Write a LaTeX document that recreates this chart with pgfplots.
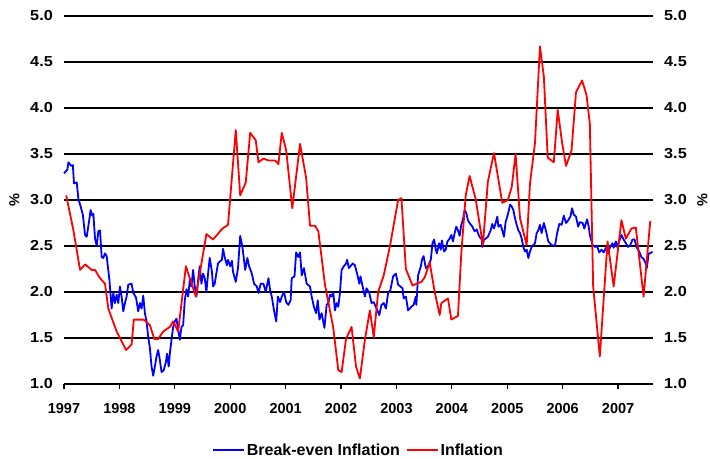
\documentclass[border=0pt]{standalone}
\usepackage{fontspec}
\setmainfont{Liberation Sans}
\newfontfamily\widefam{Liberation Sans}[FakeStretch=1.12]
\usepackage{pgfplots}
\pgfplotsset{compat=1.18}
\newcommand{\tickfont}{\fontsize{14.5bp}{17bp}\selectfont\bfseries}
\newcommand{\ytickfont}{\widefam\fontsize{14.5bp}{17bp}\selectfont\bfseries}
\newcommand{\legfont}{\fontsize{16bp}{19bp}\selectfont\bfseries}
\begin{document}
\begin{tikzpicture}
\begin{axis}[name=ax,
  scale only axis, width=589bp, height=368bp,
  xmin=1997, xmax=2007.63, ymin=1, ymax=5,
  axis line style={draw=none},
  xtick={1997,1998,1999,2000,2001,2002,2003,2004,2005,2006,2007},
  ytick={1,1.5,2,2.5,3,3.5,4,4.5,5},
  xtick pos=left, tick align=outside,
  major tick length=5bp,
  xtick style={black, line width=1.2bp},
  ytick style={draw=none},
  ymajorgrids, grid style={black, line width=1.2bp},
  /pgf/number format/assume math mode=true,
  xticklabel style={font=\tickfont, /pgf/number format/1000 sep={}, inner sep=0pt, anchor=north, yshift=-14bp},
  yticklabel style={font=\ytickfont, /pgf/number format/fixed, /pgf/number format/fixed zerofill, /pgf/number format/precision=1, inner sep=0pt, anchor=east, xshift=-6bp},
  legend style={at={(0.5,-0.1793)}, anchor=center, draw=none, fill=none,
    font=\legfont, nodes={inner sep=2bp},
    /tikz/every even column/.append style={column sep=4bp}},
  legend columns=2,
  legend image code/.code={\draw[#1] (0bp,0bp) -- (31bp,0bp);},
  clip=false,
]
\addplot[blue, line width=1.8bp, line join=round] coordinates {
(1997.00,3.29)(1997.06,3.33)(1997.08,3.41)(1997.13,3.37)(1997.16,3.38)(1997.18,3.18)(1997.23,3.19)(1997.26,3.01)(1997.30,2.93)(1997.34,2.84)(1997.38,2.62)(1997.41,2.60)(1997.46,2.80)(1997.48,2.89)(1997.51,2.83)(1997.53,2.85)(1997.56,2.58)(1997.59,2.50)(1997.62,2.66)(1997.65,2.67)(1997.68,2.38)(1997.71,2.37)(1997.74,2.42)(1997.77,2.39)(1997.82,2.13)(1997.86,1.82)(1997.89,1.99)(1997.92,1.88)(1997.95,1.97)(1997.98,1.88)(1998.01,2.06)(1998.04,1.95)(1998.07,1.79)(1998.10,1.88)(1998.13,1.95)(1998.16,2.08)(1998.22,2.09)(1998.25,1.99)(1998.30,1.94)(1998.34,1.79)(1998.37,1.88)(1998.40,1.82)(1998.43,1.96)(1998.46,1.77)(1998.49,1.68)(1998.52,1.51)(1998.55,1.39)(1998.58,1.19)(1998.61,1.09)(1998.64,1.19)(1998.67,1.30)(1998.70,1.37)(1998.73,1.26)(1998.76,1.13)(1998.80,1.15)(1998.84,1.24)(1998.86,1.33)(1998.89,1.19)(1998.91,1.33)(1998.94,1.48)(1998.97,1.62)(1999.00,1.68)(1999.03,1.71)(1999.06,1.59)(1999.09,1.48)(1999.12,1.62)(1999.15,1.64)(1999.18,1.91)(1999.21,2.03)(1999.24,1.95)(1999.27,2.13)(1999.30,2.06)(1999.33,2.24)(1999.36,2.06)(1999.39,1.95)(1999.42,2.13)(1999.45,2.28)(1999.48,2.09)(1999.51,2.20)(1999.54,2.15)(1999.57,2.00)(1999.60,2.20)(1999.63,2.37)(1999.67,2.22)(1999.69,2.06)(1999.72,2.09)(1999.76,2.24)(1999.78,2.31)(1999.81,2.33)(1999.85,2.35)(1999.87,2.47)(1999.90,2.38)(1999.94,2.29)(1999.96,2.35)(2000.00,2.28)(2000.03,2.34)(2000.05,2.22)(2000.10,2.11)(2000.14,2.26)(2000.18,2.61)(2000.22,2.49)(2000.27,2.24)(2000.31,2.37)(2000.34,2.28)(2000.39,2.20)(2000.43,2.09)(2000.48,2.06)(2000.51,1.99)(2000.55,2.09)(2000.60,2.09)(2000.64,2.00)(2000.69,2.15)(2000.72,2.02)(2000.75,1.95)(2000.79,1.80)(2000.83,1.68)(2000.86,1.95)(2000.90,1.89)(2000.93,1.95)(2000.97,2.00)(2001.01,1.89)(2001.05,1.86)(2001.09,1.91)(2001.11,2.15)(2001.16,2.17)(2001.19,2.43)(2001.23,2.38)(2001.26,2.43)(2001.29,2.18)(2001.33,2.26)(2001.38,2.09)(2001.44,2.06)(2001.47,1.95)(2001.51,1.84)(2001.55,1.77)(2001.58,1.91)(2001.61,1.70)(2001.65,1.77)(2001.70,1.61)(2001.74,1.86)(2001.77,1.88)(2001.80,1.97)(2001.83,1.95)(2001.86,2.00)(2001.89,1.80)(2001.92,1.88)(2001.95,1.84)(2001.98,1.99)(2002.01,2.24)(2002.05,2.28)(2002.09,2.31)(2002.11,2.35)(2002.14,2.26)(2002.17,2.28)(2002.21,2.31)(2002.25,2.29)(2002.29,2.20)(2002.33,2.09)(2002.35,2.17)(2002.39,2.06)(2002.43,1.95)(2002.46,2.04)(2002.51,1.99)(2002.55,1.88)(2002.59,1.89)(2002.64,1.82)(2002.69,1.75)(2002.73,1.86)(2002.77,1.88)(2002.81,1.82)(2002.85,1.99)(2002.89,2.02)(2002.94,2.17)(2002.99,2.20)(2003.03,2.08)(2003.07,2.06)(2003.11,2.04)(2003.13,1.93)(2003.17,1.95)(2003.21,1.80)(2003.27,1.84)(2003.31,1.86)(2003.35,1.95)(2003.36,1.86)(2003.39,2.18)(2003.44,2.28)(2003.46,2.35)(2003.49,2.39)(2003.53,2.26)(2003.57,2.28)(2003.62,2.35)(2003.65,2.53)(2003.68,2.57)(2003.71,2.46)(2003.73,2.42)(2003.77,2.53)(2003.80,2.46)(2003.82,2.56)(2003.86,2.44)(2003.89,2.46)(2003.92,2.55)(2003.96,2.58)(2003.99,2.62)(2004.02,2.55)(2004.05,2.64)(2004.08,2.71)(2004.11,2.67)(2004.14,2.61)(2004.17,2.73)(2004.20,2.79)(2004.23,2.89)(2004.26,2.86)(2004.29,2.78)(2004.32,2.75)(2004.37,2.71)(2004.41,2.66)(2004.45,2.68)(2004.47,2.64)(2004.50,2.60)(2004.54,2.57)(2004.55,2.49)(2004.58,2.57)(2004.61,2.58)(2004.65,2.60)(2004.70,2.67)(2004.73,2.74)(2004.76,2.69)(2004.79,2.75)(2004.82,2.82)(2004.84,2.71)(2004.88,2.73)(2004.91,2.67)(2004.94,2.60)(2004.97,2.76)(2005.00,2.82)(2005.03,2.89)(2005.05,2.95)(2005.08,2.93)(2005.11,2.89)(2005.14,2.80)(2005.17,2.73)(2005.20,2.67)(2005.23,2.64)(2005.26,2.58)(2005.29,2.49)(2005.32,2.44)(2005.35,2.46)(2005.38,2.37)(2005.41,2.44)(2005.44,2.49)(2005.47,2.51)(2005.50,2.53)(2005.53,2.64)(2005.56,2.67)(2005.59,2.73)(2005.62,2.64)(2005.66,2.75)(2005.70,2.66)(2005.74,2.55)(2005.80,2.51)(2005.86,2.50)(2005.90,2.64)(2005.94,2.74)(2005.98,2.73)(2006.02,2.83)(2006.06,2.75)(2006.10,2.78)(2006.14,2.82)(2006.17,2.91)(2006.20,2.84)(2006.24,2.82)(2006.28,2.71)(2006.31,2.76)(2006.36,2.75)(2006.39,2.69)(2006.42,2.75)(2006.44,2.79)(2006.47,2.71)(2006.49,2.62)(2006.54,2.51)(2006.58,2.49)(2006.62,2.50)(2006.66,2.43)(2006.70,2.46)(2006.74,2.43)(2006.78,2.48)(2006.82,2.42)(2006.85,2.48)(2006.90,2.53)(2006.92,2.48)(2006.96,2.55)(2006.98,2.49)(2007.02,2.55)(2007.06,2.62)(2007.10,2.57)(2007.14,2.53)(2007.18,2.49)(2007.22,2.51)(2007.26,2.57)(2007.30,2.57)(2007.33,2.49)(2007.38,2.44)(2007.42,2.38)(2007.46,2.36)(2007.50,2.31)(2007.52,2.26)(2007.55,2.42)(2007.58,2.42)(2007.62,2.44)
};
\addlegendentry{Break-even Inflation}
\addplot[red, line width=1.8bp, line join=round] coordinates {
(1997.04,3.05)(1997.17,2.67)(1997.29,2.24)(1997.38,2.30)(1997.50,2.24)(1997.56,2.24)(1997.65,2.15)(1997.74,2.09)(1997.80,1.82)(1997.95,1.57)(1998.12,1.37)(1998.22,1.43)(1998.26,1.70)(1998.44,1.70)(1998.55,1.64)(1998.63,1.49)(1998.70,1.49)(1998.79,1.57)(1998.91,1.62)(1998.97,1.68)(1999.06,1.57)(1999.20,2.28)(1999.38,1.95)(1999.57,2.63)(1999.69,2.57)(1999.86,2.69)(1999.96,2.73)(2000.10,3.76)(2000.18,3.05)(2000.28,3.19)(2000.36,3.73)(2000.46,3.65)(2000.51,3.41)(2000.60,3.45)(2000.69,3.43)(2000.81,3.43)(2000.87,3.39)(2000.93,3.73)(2001.01,3.54)(2001.12,2.91)(2001.26,3.61)(2001.37,3.24)(2001.44,2.72)(2001.53,2.72)(2001.59,2.66)(2001.71,2.08)(2001.86,1.61)(2001.95,1.15)(2002.01,1.13)(2002.09,1.49)(2002.19,1.62)(2002.27,1.19)(2002.34,1.06)(2002.43,1.48)(2002.52,1.80)(2002.59,1.51)(2002.67,2.00)(2002.77,2.18)(2002.88,2.49)(2003.03,3.00)(2003.09,3.02)(2003.17,2.25)(2003.29,2.07)(2003.36,2.09)(2003.45,2.11)(2003.51,2.16)(2003.60,2.32)(2003.69,2.00)(2003.78,1.75)(2003.81,1.88)(2003.93,1.93)(2003.99,1.70)(2004.11,1.74)(2004.17,2.42)(2004.25,3.05)(2004.32,3.26)(2004.43,3.01)(2004.56,2.51)(2004.65,3.20)(2004.76,3.51)(2004.91,2.97)(2005.01,3.00)(2005.08,3.14)(2005.15,3.50)(2005.23,2.80)(2005.35,2.51)(2005.41,3.18)(2005.50,3.62)(2005.59,4.67)(2005.66,4.34)(2005.73,3.46)(2005.84,3.41)(2005.91,3.98)(2005.99,3.62)(2006.06,3.37)(2006.16,3.54)(2006.24,4.17)(2006.35,4.30)(2006.43,4.14)(2006.49,3.83)(2006.55,2.06)(2006.67,1.30)(2006.81,2.55)(2006.92,2.06)(2007.06,2.78)(2007.14,2.58)(2007.24,2.69)(2007.32,2.70)(2007.46,1.95)(2007.58,2.77)
};
\addlegendentry{Inflation}
\node[font=\tickfont, xshift=-49.5bp, rotate=90] at (axis description cs:0,0.5) {\%};
\node[font=\tickfont, xshift=49.5bp, rotate=90] at (axis description cs:1,0.5) {\%};
\end{axis}
\begin{axis}[
  scale only axis, width=589bp, height=368bp,
  xmin=1997, xmax=2007.63, ymin=1, ymax=5,
  axis line style={draw=none},
  xtick=\empty,
  ytick={1,1.5,2,2.5,3,3.5,4,4.5,5},
  yticklabel pos=right,
  ytick style={draw=none},
  major tick length=0bp,
  /pgf/number format/assume math mode=true,
  yticklabel style={font=\ytickfont, /pgf/number format/fixed, /pgf/number format/fixed zerofill, /pgf/number format/precision=1, inner sep=0pt, anchor=west, xshift=11bp},
]
\end{axis}
\pgfresetboundingbox
\path (-64bp,-75bp) rectangle (646bp,384bp);
\end{tikzpicture}
\end{document}
